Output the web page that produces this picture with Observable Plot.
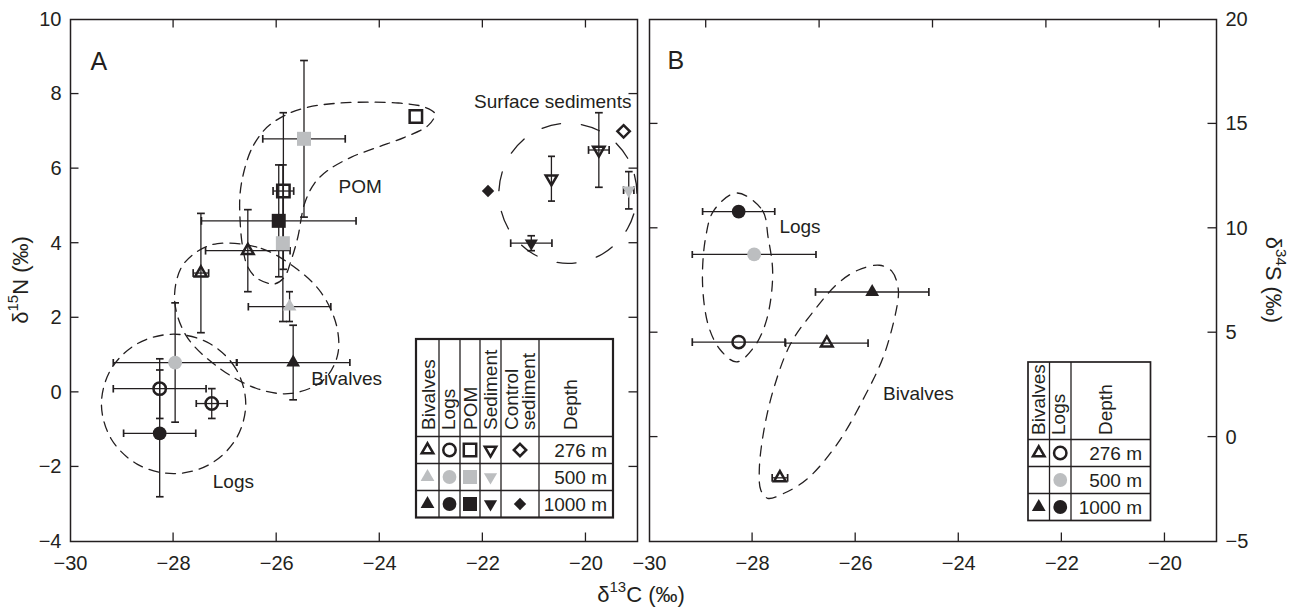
<!DOCTYPE html>
<html>
<head>
<meta charset="utf-8">
<script src="https://cdn.jsdelivr.net/npm/d3@7"></script>
<script src="https://cdn.jsdelivr.net/npm/@observablehq/plot@0.6"></script>
<style>
html,body{margin:0;padding:0;background:#fff;}
#chart{position:relative;width:1295px;height:608px;overflow:hidden;background:#fff;}
#chart svg{position:absolute;top:0;overflow:visible;}
</style>
</head>
<body>
<div id="chart"></div>
<script>
const FONT = '"Liberation Sans", Arial, Helvetica, sans-serif';
const INK = "#231f20";
const GREY = "#bcbec0";

// ---------------- Panel A data: δ13C vs δ15N ----------------
const aGroup = ["Bivalves","Bivalves","Bivalves","Bivalves","Logs","Logs","Logs","Logs","POM","POM","POM","POM","POM","Sediment","Sediment","Sediment","Sediment","Control sediment","Control sediment"];
const aDepth = [276,276,500,1000,276,276,500,1000,276,276,500,500,1000,276,276,500,1000,276,1000];
const aC     = [-27.47,-26.56,-25.75,-25.68,-28.27,-27.26,-27.97,-28.27,-25.87,-23.30,-25.47,-25.88,-25.96,-20.67,-19.75,-19.17,-21.06,-19.27,-21.90];
const aCsd   = [0.15,0.82,0.80,1.10,0.90,0.30,1.20,0.70,0.20,0,0.80,0,1.50,0,0.20,0.10,0.40,0,0];
const aN     = [3.2,3.8,2.3,0.8,0.1,-0.3,0.8,-1.1,5.4,7.4,6.8,4.0,4.6,5.73,6.5,5.42,4.0,7.0,5.4];
const aNsd   = [1.6,1.1,0.4,1.0,0.8,0.4,1.6,1.7,2.1,0,2.1,2.1,1.5,0.6,1.0,0.5,0.2,0,0];

// dashed outlines (vertices)
const aLogsRingC = [-26.60,-26.79,-27.30,-28.00,-28.70,-29.21,-29.40,-29.21,-28.70,-28.00,-27.30,-26.79];
const aLogsRingN = [-0.31,0.63,1.31,1.56,1.31,0.63,-0.31,-1.25,-1.93,-2.18,-1.93,-1.25];
const aBivRingC = [-27.15,-26.30,-25.62,-25.14,-24.84,-24.82,-25.10,-25.72,-26.40,-27.18,-27.76,-27.98,-27.86,-27.57];
const aBivRingN = [3.99,3.86,3.32,2.68,1.80,0.99,0.32,-0.03,0.11,0.72,1.53,2.47,3.32,3.75];
const aPomRingC = [-26.30,-26.50,-26.63,-26.71,-26.71,-26.66,-26.56,-26.37,-26.04,-25.85,-25.72,-25.59,-25.46,-25.27,-25.01,-24.55,-24.03,-23.52,-23.06,-22.93,-23.13,-23.64,-24.42,-24.94,-25.39,-25.78,-26.11];
const aPomRingN = [6.94,6.49,5.95,5.33,4.61,3.90,3.36,3.05,2.91,3.09,3.54,4.16,5.06,5.60,5.95,6.31,6.58,6.84,7.16,7.47,7.65,7.76,7.78,7.74,7.65,7.47,7.20];
const aSedRingC = [-19.01,-19.19,-19.68,-20.35,-21.02,-21.51,-21.69,-21.51,-21.02,-20.35,-19.68,-19.19];
const aSedRingN = [5.34,6.28,6.97,7.22,6.97,6.28,5.34,4.40,3.71,3.46,3.71,4.40];

const aNotes = ["POM","Bivalves","Logs","Surface sediments"];
const aNoteC = [-24.80,-25.33,-27.24,-22.17];
const aNoteN = [5.50,0.37,-2.40,7.80];

const aXTicks = [-30,-28,-26,-24,-22,-20];
const aYTicks = [-4,-2,0,2,4,6,8,10];
const aInnerX = [-28,-26,-24,-22,-20];
const aInnerY = [-2,0,2,4,6,8];

// ---------------- Panel B data: δ13C vs δ34S ----------------
const bGroup = ["Logs","Logs","Logs","Bivalves","Bivalves","Bivalves"];
const bDepth = [276,500,1000,276,276,1000];
const bC     = [-28.27,-27.97,-28.27,-27.47,-26.56,-25.68];
const bCsd   = [0.90,1.20,0.70,0.15,0.80,1.10];
const bS     = [4.55,8.75,10.8,-1.95,4.5,6.95];

const bLogsRingC = [-28.31,-27.81,-27.70,-27.61,-27.73,-27.97,-28.31,-28.62,-28.85,-28.97,-28.91,-28.75];
const bLogsRingS = [11.69,10.86,9.58,7.83,5.60,4.32,3.60,4.16,5.28,7.30,9.58,10.86];
const bBivRingC = [-25.54,-25.30,-25.18,-25.18,-25.44,-25.83,-26.35,-26.93,-27.39,-27.71,-27.84,-27.87,-27.78,-27.58,-27.26,-26.80,-26.35,-25.96];
const bBivRingS = [8.23,7.95,7.19,6.56,4.00,1.93,-0.30,-1.98,-2.69,-2.93,-2.54,-1.58,0.33,2.41,4.48,6.08,7.35,7.99];

const bNotes = ["Logs","Bivalves"];
const bNoteC = [-27.48,-25.47];
const bNoteS = [10.06,2.09];

const bXTicks = [-30,-28,-26,-24,-22,-20];
const bYTicks = [-5,0,5,10,15,20];
const bInnerX = [-28,-26,-24,-22,-20];
const bTopTicks = [-28.9,-26.7,-24.5,-22.3,-20.1];
const bInnerY = [0,5,10,15];

// legend texts
const depthLabels = ["276 m","500 m","1000 m"];
const depthValues = [276,500,1000];
const legendAGroups = ["Bivalves","Logs","POM","Sediment","Control sediment"];
const legendBGroups = ["Bivalves","Logs"];

// ---------------- symbols & styles ----------------
const symTriUp = {draw(c, size){const w=Math.sqrt(size/Math.PI),h=w*Math.sqrt(3);c.moveTo(0,-2*h/3);c.lineTo(w,h/3);c.lineTo(-w,h/3);c.closePath();}};
const symTriDown = {draw(c, size){const w=Math.sqrt(size/Math.PI),h=w*Math.sqrt(3);c.moveTo(0,2*h/3);c.lineTo(w,-h/3);c.lineTo(-w,-h/3);c.closePath();}};
const symSquare = {draw(c, size){const s=Math.sqrt(size/Math.PI);c.moveTo(-s,-s);c.lineTo(s,-s);c.lineTo(s,s);c.lineTo(-s,s);c.closePath();}};
const symDiamond = {draw(c, size){const s=Math.sqrt(size/Math.PI);c.moveTo(0,-s);c.lineTo(s,0);c.lineTo(0,s);c.lineTo(-s,0);c.closePath();}};
const symCircle = {draw(c, size){const s=Math.sqrt(size/Math.PI);c.moveTo(s,0);c.arc(0,0,s,0,2*Math.PI);c.closePath();}};
const SYM = {"Bivalves":symTriUp,"Logs":symCircle,"POM":symSquare,"Sediment":symTriDown,"Control sediment":symDiamond};
const R_OPEN = {"Bivalves":5.8,"Logs":6.2,"POM":6.2,"Sediment":5.7,"Control sediment":6.2};
const R_FILL = {"Bivalves":6.9,"Logs":6.9,"POM":7.0,"Sediment":6.6,"Control sediment":6.2};

function mStyle(group, depth) {
  const open = depth === 276;
  const color = depth === 500 ? GREY : INK;
  return {symbol: SYM[group], r: open ? R_OPEN[group] : R_FILL[group],
          fill: open ? "none" : color, stroke: open ? color : "none", strokeWidth: open ? 2.5 : 0};
}

function dotMarks(rows) {
  return d3.groups(rows, d => d.group + "|" + d.depth).map(([, arr]) => {
    const s = mStyle(arr[0].group, arr[0].depth);
    return Plot.dot(arr, {x: "x", y: "y", symbol: s.symbol, r: s.r, fill: s.fill, stroke: s.stroke, strokeWidth: s.strokeWidth});
  });
}

function errMarks(rows) {
  const opts = {stroke: INK, strokeWidth: 1.3, markerStart: "tick", markerEnd: "tick"};
  return [
    Plot.link(rows.filter(d => d.xe > 0), {x1: d => d.x - d.xe, x2: d => d.x + d.xe, y1: "y", y2: "y", ...opts}),
    Plot.link(rows.filter(d => d.ye > 0), {x1: "x", x2: "x", y1: d => d.y - d.ye, y2: d => d.y + d.ye, ...opts})
  ];
}

function ring(xs, ys, dash) {
  return Plot.line(d3.zip(xs, ys), {x: d => d[0], y: d => d[1], curve: "catmull-rom-closed",
    stroke: INK, strokeWidth: 1.3, strokeDasharray: dash, fill: "none"});
}

const rowsA = aGroup.map((g, i) => ({group: g, depth: aDepth[i], x: aC[i], xe: aCsd[i], y: aN[i], ye: aNsd[i]}));
const rowsB = bGroup.map((g, i) => ({group: g, depth: bDepth[i], x: bC[i], xe: bCsd[i], y: bS[i], ye: 0}));

const baseStyle = {fontFamily: FONT, fontSize: "20px", color: INK, background: "transparent", overflow: "visible"};

const plotA = Plot.plot({
  width: 645, height: 608, marginLeft: 70, marginRight: 8, marginTop: 19, marginBottom: 67,
  x: {domain: [-30, -19], label: null},
  y: {domain: [-4, 10], label: null},
  style: baseStyle,
  marks: [
    Plot.axisX({ticks: aXTicks, tickSize: 0, tickPadding: 14, fill: INK}),
    Plot.axisY({ticks: aYTicks, tickSize: 0, tickPadding: 9, fill: INK}),
    ring(aLogsRingC, aLogsRingN, "10,7"),
    ring(aBivRingC, aBivRingN, "10,7"),
    ring(aPomRingC, aPomRingN, "10,7"),
    ring(aSedRingC, aSedRingN, "19,21"),
    ...errMarks(rowsA),
    ...dotMarks(rowsA),
    Plot.text(aNotes, {x: (d, i) => aNoteC[i], y: (d, i) => aNoteN[i], text: d => d, textAnchor: "start", fill: INK, fontSize: 19}),
    Plot.text(["A"], {frameAnchor: "top-left", dx: 20, dy: 33, text: d => d, textAnchor: "start", fontSize: 25, fill: INK}),
    Plot.frame({stroke: INK, strokeWidth: 1.5})
  ]
});

const plotB = Plot.plot({
  width: 650, height: 608, marginLeft: 4, marginRight: 79, marginTop: 19, marginBottom: 67,
  x: {domain: [-30, -19], label: null},
  y: {domain: [-5, 20], label: null},
  style: baseStyle,
  marks: [
    Plot.axisX({ticks: bXTicks, tickSize: 0, tickPadding: 14, fill: INK}),
    Plot.axisY({anchor: "right", ticks: bYTicks, tickSize: 0, tickPadding: 9, fill: INK}),
    ring(bLogsRingC, bLogsRingS, "10,8"),
    ring(bBivRingC, bBivRingS, "10,8"),
    ...errMarks(rowsB),
    ...dotMarks(rowsB),
    Plot.text(bNotes, {x: (d, i) => bNoteC[i], y: (d, i) => bNoteS[i], text: d => d, textAnchor: "start", fill: INK, fontSize: 19}),
    Plot.text(["B"], {frameAnchor: "top-left", dx: 18, dy: 32, text: d => d, textAnchor: "start", fontSize: 25, fill: INK}),
    Plot.frame({stroke: INK, strokeWidth: 1.5})
  ]
});

const wrap = document.getElementById("chart");
plotA.style.left = "0px";
plotB.style.left = "645px";
wrap.append(plotA, plotB);

// inward tick marks, placed with the plots' own scales
function innerTicks(p, bottom, top, left, right) {
  const sx = p.scale("x"), sy = p.scale("y");
  const [xl, xr] = sx.range, [yb, yt] = sy.range;
  const L = 8.5;
  const g = d3.select(p).append("g").attr("stroke", INK).attr("stroke-width", 1.3);
  bottom.forEach(v => { const x = sx.apply(v); g.append("line").attr("x1", x).attr("x2", x).attr("y1", yb).attr("y2", yb - L); });
  top.forEach(v => { const x = sx.apply(v); g.append("line").attr("x1", x).attr("x2", x).attr("y1", yt).attr("y2", yt + L); });
  left.forEach(v => { const y = sy.apply(v); g.append("line").attr("x1", xl).attr("x2", xl + L).attr("y1", y).attr("y2", y); });
  right.forEach(v => { const y = sy.apply(v); g.append("line").attr("x1", xr).attr("x2", xr - L).attr("y1", y).attr("y2", y); });
}
innerTicks(plotA, aInnerX, aInnerX, aInnerY, aInnerY);
innerTicks(plotB, bInnerX, bTopTicks, bInnerY, bInnerY);

// axis titles with superscripts
function title(p, tx, ty, rot, pre, sup, post) {
  const t = d3.select(p).append("text")
    .attr("transform", `translate(${tx},${ty}) rotate(${rot})`)
    .attr("text-anchor", "middle").attr("font-family", FONT).attr("font-size", 22).attr("fill", INK);
  t.append("tspan").text(pre);
  t.append("tspan").attr("font-size", 15).attr("dy", -10).text(sup);
  t.append("tspan").attr("dy", 10).text(post);
}
title(plotA, 28, 280, -90, "δ", "15", "N (‰)");
title(plotB, 621, 280, 90, "δ", "34", "S (‰)");
title(plotA, 641, 602, 0, "δ", "13", "C (‰)");

// legend tables
function symPath(sym, r) { const p = d3.path(); sym.draw(p, Math.PI * r * r); return p.toString(); }
function drawTable(p, spec, rows) {
  const xs = spec.cols, ys = spec.rows;
  const X0 = xs[0], X1 = xs[xs.length - 1], Y0 = ys[0], Y1 = ys[ys.length - 1];
  const g = d3.select(p).append("g").attr("font-family", FONT).attr("font-size", 19).attr("fill", INK);
  g.append("rect").attr("x", X0).attr("y", Y0).attr("width", X1 - X0).attr("height", Y1 - Y0).attr("fill", "#fff");
  const ln = g.append("g").attr("stroke", INK).attr("stroke-width", 1.3);
  xs.slice(1, -1).forEach(x => ln.append("line").attr("x1", x).attr("x2", x).attr("y1", Y0).attr("y2", Y1));
  ys.slice(1, -1).forEach(y => ln.append("line").attr("x1", X0).attr("x2", X1).attr("y1", y).attr("y2", y));
  g.append("rect").attr("x", X0).attr("y", Y0).attr("width", X1 - X0).attr("height", Y1 - Y0)
    .attr("fill", "none").attr("stroke", INK).attr("stroke-width", spec.border);
  spec.heads.forEach(h => g.append("text").attr("transform", `translate(${h.x},${spec.headY}) rotate(-90)`)
    .attr("text-anchor", "start").text(h.t));
  depthValues.forEach((dep, ri) => {
    const cy = (ys[ri + 1] + ys[ri + 2]) / 2;
    spec.groups.forEach((grp, ci) => {
      if (!rows.some(d => d.group === grp && d.depth === dep)) return;
      const s = mStyle(grp, dep);
      const cx = (xs[ci] + xs[ci + 1]) / 2;
      g.append("path").attr("d", symPath(s.symbol, s.r)).attr("transform", `translate(${cx},${cy})`)
        .attr("fill", s.fill).attr("stroke", s.stroke).attr("stroke-width", s.strokeWidth);
    });
    g.append("text").attr("x", spec.depthX).attr("y", cy).attr("dy", "0.36em").attr("text-anchor", "end").text(depthLabels[ri]);
  });
}
drawTable(plotA, {
  cols: [416, 439, 460, 480, 501, 539, 613], rows: [339, 436.5, 463.5, 490.5, 517.5], border: 2.2,
  headY: 430, depthX: 607, groups: legendAGroups,
  heads: [{t: "Bivalves", x: 435}, {t: "Logs", x: 455}, {t: "POM", x: 476.5}, {t: "Sediment", x: 497},
          {t: "Control", x: 518}, {t: "sediment", x: 535}, {t: "Depth", x: 577}]
}, rowsA);
drawTable(plotB, {
  cols: [383, 404.5, 426, 505.5], rows: [362, 439.5, 466.5, 493.5, 520.5], border: 1.7,
  headY: 435, depthX: 497, groups: legendBGroups,
  heads: [{t: "Bivalves", x: 400}, {t: "Logs", x: 420}, {t: "Depth", x: 467}]
}, rowsB);
</script>
</body>
</html>
